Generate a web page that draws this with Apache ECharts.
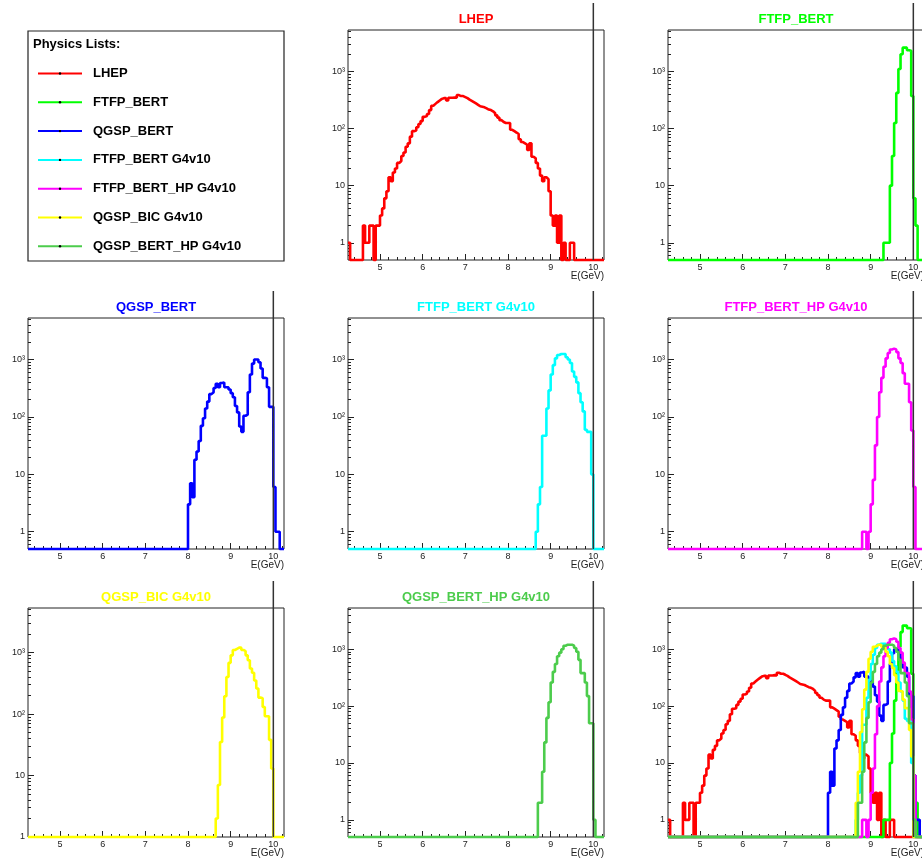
<!DOCTYPE html>
<html>
<head>
<meta charset="utf-8">
<title>Physics Lists - E(GeV)</title>
<script src="https://cdn.jsdelivr.net/npm/echarts@6.0.0/dist/echarts.min.js"></script>
<style>
  html, body { margin: 0; padding: 0; background: #fff; }
  #main { width: 922px; height: 865px; }
</style>
</head>
<body>
<div id="main"></div>
<script>
// binning of all histograms: E(GeV) 4.25 .. 10.25, 0.05 GeV per bin
var eMin = 4.25, eMax = 10.25, binWidth = 0.05;
var beamEnergy = 10;
var xTickLabels = [5, 6, 7, 8, 9, 10];
var yMaxAll = 5300;

// counts per bin, first bin starts at *Start; bins outside the list are empty
var lhepStart = 4.25;
var lhep = [1, 0, 0, 0, 0, 0, 0, 2, 1, 1,
  2, 2, 0, 2, 2, 3, 4, 6, 8, 14,
  12, 17, 20, 25, 27, 33, 38, 48, 55, 72,
  90, 92, 105, 120, 135, 160, 165, 180, 210, 250,
  270, 290, 310, 330, 340, 340, 310, 345, 345, 350,
  345, 385, 370, 370, 355, 340, 320, 305, 290, 275,
  260, 245, 240, 235, 225, 215, 210, 200, 185, 170,
  155, 140, 130, 125, 125, 125, 95, 90, 85, 80,
  65, 58, 55, 52, 42, 55, 32, 30, 25, 20,
  15, 12, 14, 13, 8, 3, 2, 3, 1, 3,
  0, 1, 0, 0, 1, 1];

var ftfpBertStart = 9.30;
var ftfpBert = [1, 1, 1, 10, 33, 125, 420, 1100, 2000, 2600, 2600, 2350, 2300, 370, 6, 2];

var qgspBertStart = 8.00;
var qgspBert = [3, 7, 4, 18, 25, 38, 70, 95, 140, 185,
  250, 270, 320, 380, 330, 390, 400, 330, 330, 300,
  260, 220, 155, 120, 68, 55, 105, 110, 270, 550,
  850, 1000, 1000, 900, 700, 480, 470, 330, 150, 150,
  6, 1, 1];

var ftfpBertV10Start = 8.65;
var ftfpBertV10 = [1, 3, 6, 47, 47, 140, 290, 550, 800, 1050,
  1200, 1250, 1250, 1250, 1100, 1000, 870, 620, 500, 400,
  260, 180, 125, 60, 55, 55, 10];

var ftfpBertHpV10Start = 8.80;
var ftfpBertHpV10 = [1, 1, 0, 1, 3, 8, 32, 100, 270, 480,
  750, 1050, 1300, 1500, 1550, 1500, 1350, 1050, 870, 580,
  380, 380, 180, 58, 6];

var qgspBicV10Start = 8.65;
var qgspBicV10 = [2, 7, 35, 88, 195, 400, 680, 900, 1100, 1150,
  1200, 1200, 1100, 1050, 900, 750, 550, 470, 350, 260,
  185, 180, 130, 92, 92, 38, 13];

var qgspBertHpV10Start = 8.70;
var qgspBertHpV10 = [2, 2, 7, 23, 62, 117, 260, 400, 550, 750,
  870, 1000, 1150, 1200, 1200, 1200, 1150, 1050, 900, 650,
  380, 380, 260, 150, 50, 50, 1];

var lists = [
  { name: 'LHEP', start: lhepStart, counts: lhep, color: '#ff0000' },
  { name: 'FTFP_BERT', start: ftfpBertStart, counts: ftfpBert, color: '#00ff00' },
  { name: 'QGSP_BERT', start: qgspBertStart, counts: qgspBert, color: '#0000ff' },
  { name: 'FTFP_BERT G4v10', start: ftfpBertV10Start, counts: ftfpBertV10, color: '#00ffff' },
  { name: 'FTFP_BERT_HP G4v10', start: ftfpBertHpV10Start, counts: ftfpBertHpV10, color: '#ff00ff' },
  { name: 'QGSP_BIC G4v10', start: qgspBicV10Start, counts: qgspBicV10, color: '#ffff00' },
  { name: 'QGSP_BERT_HP G4v10', start: qgspBertHpV10Start, counts: qgspBertHpV10, color: '#4ccc4c' }
];

// pad layout
var FONT = '"Liberation Sans", Arial, Helvetica, sans-serif';
var colLeft = [28, 348, 668];
var colWidth = 256;
var rowTop = [30, 318, 608];
var rowHeight = [230, 231, 229];
var lineAbove = 27;   // the E=10 line sticks out above the frame

// list index per pad, -1 = all lists overlaid
var panels = [
  { list: 0, row: 0, col: 1 },
  { list: 1, row: 0, col: 2 },
  { list: 2, row: 1, col: 0 },
  { list: 3, row: 1, col: 1 },
  { list: 4, row: 1, col: 2 },
  { list: 5, row: 2, col: 0, yMin: 1 },
  { list: 6, row: 2, col: 1 },
  { list: -1, row: 2, col: 2 }
];

function binPoints(l, yMin) {
  var n = Math.round((eMax - eMin) / binWidth);
  var first = Math.round((l.start - eMin) / binWidth);
  var pts = [];
  for (var i = 0; i < n; i++) {
    var c = l.counts[i - first] || 0;
    // empty bins sit on the bottom of the frame, as in the log plot
    pts.push([+(eMin + i * binWidth).toFixed(2), Math.max(c, yMin)]);
  }
  pts.push([eMax, pts[n - 1][1]]);
  return pts;
}

var xMinor = [];
for (var k = 22; k <= 51; k++) {
  if (k % 5 !== 0) xMinor.push(Math.round(k * 2) / 10);
}
function yMinorLog(yMin) {
  var out = [];
  for (var d = -1; d <= 3; d++) {
    for (var m = 2; m <= 9; m++) {
      var v = m * Math.pow(10, d);
      if (v > yMin && v < yMaxAll) out.push(Math.log10(v));
    }
  }
  return out;
}
var SUP = ['', '', '\u00b2', '\u00b3', '\u2074'];
function yLabel(v) {
  var e = Math.round(Math.log10(v));
  if (e === 0) return '1';
  if (e === 1) return '10';
  return '10' + SUP[e];
}

var grids = [], xAxes = [], yAxes = [], series = [];
var titles = [{
  text: 'Physics Lists:', left: 33, top: 38, padding: 0,
  textStyle: { fontSize: 13, fontWeight: 'bold', color: '#000', fontFamily: FONT }
}];

panels.forEach(function (p, k) {
  var left = colLeft[p.col], top = rowTop[p.row], h = rowHeight[p.row];
  var yMin = p.yMin || 0.5;
  var g = 2 * k, a = 3 * k;

  grids.push({ left: left, top: top, width: colWidth, height: h, show: true,
    borderColor: '#222', borderWidth: 1, backgroundColor: '#fff', outerBoundsMode: 'none' });
  grids.push({ left: left, top: top - lineAbove, width: colWidth, height: h + lineAbove,
    show: false, outerBoundsMode: 'none' });

  xAxes.push({
    type: 'value', gridIndex: g, position: 'bottom', min: eMin, max: eMax,
    axisLine: { show: false, onZero: false }, splitLine: { show: false },
    axisTick: { inside: true, length: 6, customValues: xTickLabels, lineStyle: { color: '#222' } },
    axisLabel: { customValues: xTickLabels, margin: 3, fontSize: 9, color: '#222', fontFamily: FONT },
    name: 'E(GeV)', nameLocation: 'end', nameGap: 0, nameMoveOverlap: false,
    nameTextStyle: { align: 'right', verticalAlign: 'top', padding: [11, 0, 0, 0],
      fontSize: 10, color: '#222', fontFamily: FONT }
  });
  xAxes.push({
    type: 'value', gridIndex: g, position: 'bottom', min: eMin, max: eMax,
    axisLine: { show: false, onZero: false }, splitLine: { show: false }, axisLabel: { show: false },
    axisTick: { inside: true, length: 3, customValues: xMinor, lineStyle: { color: '#222' } }
  });
  xAxes.push({ type: 'value', gridIndex: g + 1, min: eMin, max: eMax, show: false,
    axisLine: { onZero: false } });

  yAxes.push({
    type: 'log', logBase: 10, gridIndex: g, position: 'left', min: yMin, max: yMaxAll,
    axisLine: { show: false, onZero: false }, splitLine: { show: false },
    axisTick: { inside: true, length: 6, lineStyle: { color: '#222' } },
    axisLabel: { margin: 3, fontSize: 9, color: '#222', fontFamily: FONT, formatter: yLabel,
      showMinLabel: yMin === 1, showMaxLabel: false }
  });
  yAxes.push({
    type: 'value', gridIndex: g, position: 'left', min: Math.log10(yMin), max: Math.log10(yMaxAll),
    axisLine: { show: false, onZero: false }, splitLine: { show: false }, axisLabel: { show: false },
    axisTick: { inside: true, length: 3, customValues: yMinorLog(yMin), lineStyle: { color: '#222' } }
  });
  yAxes.push({ type: 'value', gridIndex: g + 1, min: 0, max: 1, show: false,
    axisLine: { onZero: false } });

  var shown = p.list >= 0 ? [lists[p.list]] : lists;
  shown.forEach(function (l) {
    series.push({
      type: 'line', name: l.name, xAxisIndex: a, yAxisIndex: a,
      data: binPoints(l, yMin), step: 'end', symbol: 'none', showSymbol: false,
      clip: false, silent: true,
      lineStyle: { color: l.color, width: 2.6 }, itemStyle: { color: l.color }
    });
  });
  series.push({
    type: 'line', xAxisIndex: a + 2, yAxisIndex: a + 2, z: 5, silent: true,
    data: [[beamEnergy, 0], [beamEnergy, 1]], symbol: 'none',
    lineStyle: { color: '#333', width: 1.5 }
  });

  if (p.list >= 0) {
    titles.push({
      text: lists[p.list].name, left: left + colWidth / 2, top: top - 17, padding: 0,
      textAlign: 'center',
      textStyle: { fontSize: 13, fontWeight: 'bold', color: lists[p.list].color, fontFamily: FONT }
    });
  }
});

var chart = echarts.init(document.getElementById('main'));
chart.setOption({
  animation: false,
  backgroundColor: '#fff',
  title: titles,
  legend: {
    orient: 'vertical', left: 37, top: 67, padding: 0,
    itemWidth: 44, itemHeight: 3, itemGap: 15.8, selectedMode: false,
    data: lists.map(function (l) { return l.name; }),
    itemStyle: { color: '#000' },
    textStyle: { fontSize: 13, fontWeight: 'bold', color: '#000', fontFamily: FONT, padding: [0, 0, 0, 6] }
  },
  graphic: [{
    type: 'rect', silent: true,
    shape: { x: 28, y: 31, width: 256, height: 230 },
    style: { fill: 'none', stroke: '#222', lineWidth: 1.2 }
  }],
  grid: grids,
  xAxis: xAxes,
  yAxis: yAxes,
  series: series
});
</script>
</body>
</html>
